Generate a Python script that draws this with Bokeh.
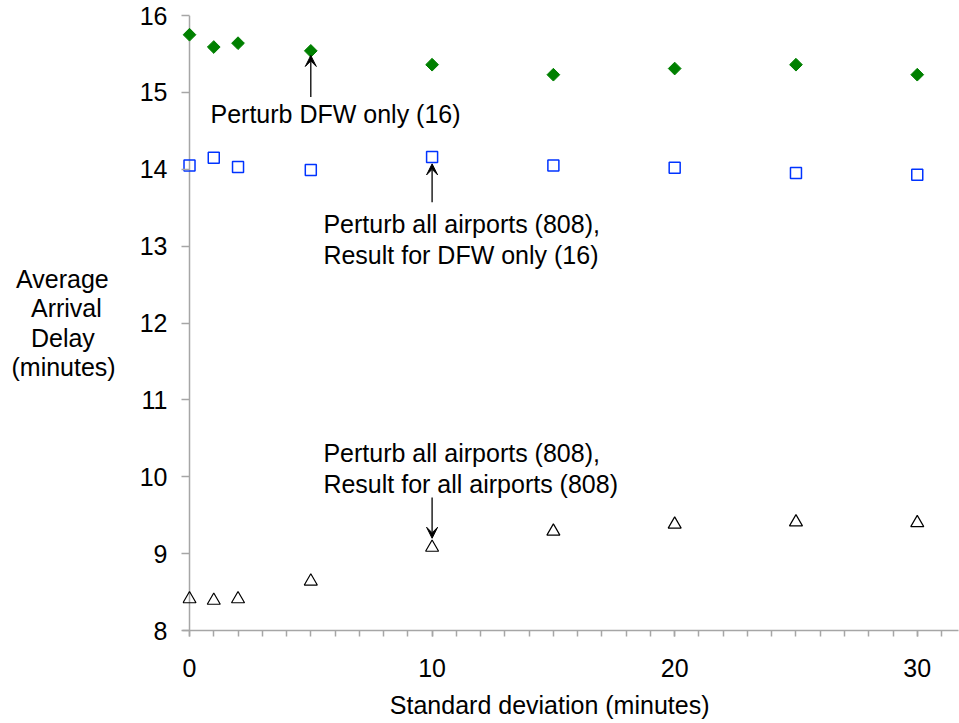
from bokeh.plotting import figure
from bokeh.models import Label, Arrow, VeeHead, FixedTicker, Range1d, Span
from bokeh.embed import file_html
from bokeh.resources import INLINE
import math

# ---- data ----
std_dev = [0, 1, 2, 5, 10, 15, 20, 25, 30]
dfw_only = [15.75, 15.59, 15.64, 15.54, 15.36, 15.23, 15.31, 15.36, 15.23]
all_dfw = [14.05, 14.15, 14.03, 13.99, 14.16, 14.05, 14.02, 13.95, 13.93]
all_all = [8.41, 8.39, 8.41, 8.64, 9.08, 9.29, 9.38, 9.41, 9.40]

x_ticks = [0, 10, 20, 30]
y_ticks = [8, 9, 10, 11, 12, 13, 14, 15, 16]

FONT = "Liberation Sans"
FS = "25px"
AXIS_GRAY = "#a6a6a6"
NB = "\u00a0"

p = figure(width=959, height=723, output_backend="svg", toolbar_location=None,
           x_range=Range1d(-0.289, 31.70), y_range=Range1d(8, 16),
           min_border_left=182, min_border_right=1, min_border_top=15, min_border_bottom=93)
p.outline_line_color = None
p.xgrid.grid_line_color = None
p.ygrid.grid_line_color = None
p.background_fill_color = "white"
p.border_fill_color = "white"

# x axis
xa = p.xaxis[0]
xa.ticker = FixedTicker(ticks=x_ticks, minor_ticks=list(range(0, 32)))
xa.axis_line_color = AXIS_GRAY
xa.axis_line_width = 1.5
xa.major_tick_line_color = AXIS_GRAY
xa.minor_tick_line_color = AXIS_GRAY
xa.major_tick_line_width = 1.5
xa.minor_tick_line_width = 1.5
xa.major_tick_in = 0
xa.minor_tick_in = 0
xa.major_tick_out = 6
xa.minor_tick_out = 6
xa.major_label_text_font = FONT
xa.major_label_text_font_size = FS
xa.major_label_text_color = "black"
xa.major_label_standoff = 22
xa.axis_label = "Standard deviation (minutes)" + NB * 6
xa.axis_label_text_font = FONT
xa.axis_label_text_font_size = FS
xa.axis_label_text_font_style = "normal"
xa.axis_label_text_color = "black"
xa.axis_label_standoff = 11

# y axis: line drawn at x = 0 by a span, ticks reach from frame edge to it
ya = p.yaxis[0]
ya.ticker = FixedTicker(ticks=y_ticks, minor_ticks=[])
ya.axis_line_color = None
ya.major_tick_line_color = AXIS_GRAY
ya.major_tick_line_width = 1.5
ya.major_tick_in = 7
ya.major_tick_out = 1
ya.minor_tick_line_color = None
ya.major_label_text_font = FONT
ya.major_label_text_font_size = FS
ya.major_label_text_color = "black"
ya.major_label_standoff = 14
ya.axis_label = "Average" + NB + "\nArrival" + NB * 2 + "\nDelay" + NB * 3 + "\n(minutes)"
ya.axis_label_orientation = "horizontal"
ya.axis_label_text_font = FONT
ya.axis_label_text_font_size = FS
ya.axis_label_text_font_style = "normal"
ya.axis_label_text_color = "black"
ya.axis_label_text_line_height = 1.045
ya.axis_label_standoff = 21

p.add_layout(Span(location=0, dimension="height", line_color=AXIS_GRAY,
                  line_width=1.5, level="underlay"))

# ---- series ----
p.scatter(std_dev, dfw_only, marker="square", size=9, angle=math.pi / 4,
          fill_color="#008000", line_color="#008000", line_width=1)
p.scatter(std_dev, all_dfw, marker="square", size=11, fill_color=None,
          line_color="#0033ff", line_width=1.5)
p.scatter(std_dev, all_all, marker="triangle", size=13, fill_color=None,
          line_color="black", line_width=1.2)

# ---- annotations ----
notes = [
    ("Perturb DFW only (16)", 0.865, 14.72),
    ("Perturb all airports (808),", 5.52, 13.29),
    ("Result for DFW only (16)", 5.52, 12.88),
    ("Perturb all airports (808),", 5.52, 10.31),
    ("Result for all airports (808)", 5.52, 9.91),
]
for t, xx, yy in notes:
    p.add_layout(Label(x=xx, y=yy, text=t, text_font=FONT, text_font_size=FS,
                       text_align="left", text_baseline="middle", text_color="black"))

arrows = [
    (5, 14.94, 5, 15.48),
    (10, 13.57, 10, 14.07),
    (10, 9.73, 10, 9.20),
]
for xs, ys, xe, ye in arrows:
    p.add_layout(Arrow(x_start=xs, y_start=ys, x_end=xe, y_end=ye,
                       line_color="black", line_width=1.3,
                       end=VeeHead(size=11, fill_color="black", line_color="black", line_width=1)))

open("out.html", "w").write(file_html(p, INLINE))
